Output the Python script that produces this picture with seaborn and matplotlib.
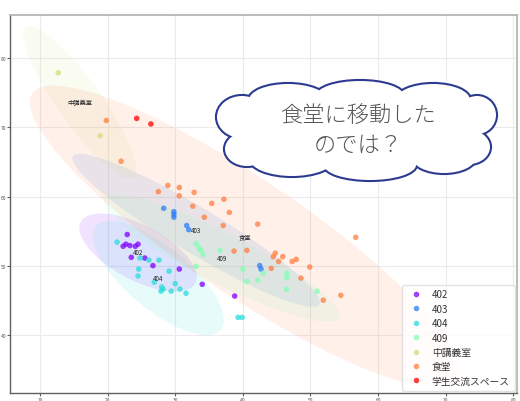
import numpy as np
import pandas as pd
import matplotlib
matplotlib.use("Agg")
import matplotlib.pyplot as plt
from matplotlib.patches import Ellipse
import seaborn as sns

# rooms, in legend order
groups = ["402", "403", "404", "409", "中講義室", "食堂", "学生交流スペース"]

# per-room observations (x, y)
x_402 = [22.9, 22.3, 22.7, 23.3, 24.1, 24.5, 23.5, 25.5, 26.7, 30.6, 34.0, 38.8]
y_402 = [54.5, 52.8, 53.1, 52.9, 52.8, 53.1, 51.2, 51.1, 50.0, 49.5, 47.3, 45.6]

x_403 = [28.3, 29.8, 29.8, 29.8, 31.7, 32.0, 42.5, 42.7]
y_403 = [58.3, 57.8, 57.4, 57.0, 55.8, 55.2, 50.0, 49.5]

x_404 = [21.4, 24.8, 26.1, 27.6, 24.6, 24.5, 29.1, 26.9, 30.0, 28.0, 28.2, 27.9,
         29.4, 30.7, 31.6, 39.3, 39.9]
y_404 = [53.4, 51.1, 50.8, 50.8, 49.5, 48.5, 49.2, 47.6, 47.4, 46.9, 46.6, 46.3,
         46.3, 46.6, 46.0, 42.5, 42.5]

x_409 = [33.1, 33.5, 33.8, 34.1, 33.1, 36.6, 40.0, 40.6, 42.2, 43.0, 46.5, 46.5,
         46.5, 51.0]
y_409 = [53.2, 52.6, 52.2, 51.6, 49.9, 52.2, 49.5, 47.7, 47.9, 48.9, 48.9, 48.3,
         46.6, 46.3]

x_lecture = [12.7, 18.9]
y_lecture = [77.9, 68.8]

x_cafeteria = [19.8, 22.0, 27.5, 28.9, 30.6, 30.6, 32.8, 32.6, 35.4, 37.2, 38.0, 34.3,
               37.1, 42.2, 38.7, 40.6, 44.8, 44.5, 45.9, 47.9, 45.3, 47.3, 44.2, 49.9,
               48.6, 51.9, 54.5, 56.7]
y_cafeteria = [71.0, 65.1, 60.7, 61.6, 61.3, 60.1, 60.6, 58.6, 59.0, 59.6, 57.7, 57.0,
               55.8, 56.0, 52.1, 52.2, 51.8, 51.3, 51.3, 50.9, 50.6, 50.6, 49.6, 49.8,
               48.2, 45.0, 45.7, 54.1]

x_lounge = [24.3, 26.4]
y_lounge = [71.3, 70.5]

# spread ellipse of each room (centre, full axes, rotation in degrees)
ell_groups = ["402", "403", "404", "409", "中講義室", "食堂"]
ell_cx = [24.5, 33.1, 27.5, 36.9, 15.9, 40.3]
ell_cy = [51.9, 55.1, 48.2, 51.1, 73.6, 54.2]
ell_w = [19.1, 42.3, 23.8, 38.8, 27.0, 75.3]
ell_h = [8.0, 6.6, 9.1, 7.3, 6.4, 16.9]
ell_ang = [-27.4, -30.4, -38.9, -26.4, -53.9, -33.3]

x_ticks = [10, 20, 30, 40, 50, 60, 70, 80]
y_ticks = [40, 50, 60, 70, 80]

callout = "食堂に移動した\nのでは？"

xs = [x_402, x_403, x_404, x_409, x_lecture, x_cafeteria, x_lounge]
ys = [y_402, y_403, y_404, y_409, y_lecture, y_cafeteria, y_lounge]
df = pd.concat(
    [pd.DataFrame({"x": gx, "y": gy, "room": g}) for g, gx, gy in zip(groups, xs, ys)],
    ignore_index=True,
)

sns.set_theme(style="whitegrid")
plt.rcParams["font.family"] = ["Noto Sans CJK JP", "DejaVu Sans"]

W, H = 520, 402
fig = plt.figure(figsize=(W / 100, H / 100), dpi=100)
ax = fig.add_axes([10 / W, 8 / H, 507 / W, 378 / H])

colors = [plt.cm.rainbow(v) for v in np.linspace(0, 1, len(groups))]
cmap = dict(zip(groups, colors))

for g, cx, cy, w, h, a in zip(ell_groups, ell_cx, ell_cy, ell_w, ell_h, ell_ang):
    ax.add_patch(Ellipse((cx, cy), w, h, angle=a, facecolor=cmap[g],
                         alpha=0.11, edgecolor="none", zorder=0.8))
    ax.text(cx, cy, g, fontsize=4.5, ha="center", va="center", color="#222222",
            zorder=4)

sns.scatterplot(data=df, x="x", y="y", hue="room", hue_order=groups,
                palette=colors, s=16, alpha=0.75, linewidth=0, ax=ax, zorder=3)

ax.set_xlim(5.56, 80.56)
ax.set_ylim(31.57, 86.26)
ax.set_xticks(x_ticks)
ax.set_yticks(y_ticks)
ax.set_xlabel("")
ax.set_ylabel("")
ax.grid(color="#ebebeb", linewidth=0.8)
ax.tick_params(left=True, bottom=True, length=2, width=0.8, color="#606060",
               labelsize=3.6, pad=0.6, labelcolor="#555555")
for side in ("left", "bottom"):
    ax.spines[side].set_color("#606060")
    ax.spines[side].set_linewidth(1.0)
for side in ("top", "right"):
    ax.spines[side].set_color("#b5b5b5")
    ax.spines[side].set_linewidth(1.3)

sns.move_legend(ax, "lower right", title=None, fontsize=7, frameon=True,
                framealpha=0.85, edgecolor="#dddddd", borderaxespad=0.25,
                handletextpad=0.6, labelspacing=0.45, borderpad=0.5)
for t in ax.get_legend().get_texts():
    t.set_color("#333333")

# thought-bubble overlay in pixel coordinates
oax = fig.add_axes([0, 0, 1, 1])
oax.set_xlim(0, W)
oax.set_ylim(H, 0)
oax.axis("off")
oax.patch.set_alpha(0)
lobes = [
    (357, 132, 240, 78),   # body
    (288, 101, 78, 32), (360, 97, 88, 30), (433, 101, 74, 32),   # top
    (242, 118, 50, 42), (247, 150, 44, 34),                       # left
    (477, 116, 38, 38), (469, 148, 42, 34),                       # right
    (292, 160, 84, 34), (370, 166, 92, 30), (444, 158, 64, 32),   # bottom
]
navy = "#2c3a8f"
for bx, by, bw, bh in lobes:
    oax.add_patch(Ellipse((bx, by), bw, bh, facecolor="white", edgecolor=navy,
                          linewidth=3.0, zorder=1))
for bx, by, bw, bh in lobes:
    oax.add_patch(Ellipse((bx, by), bw, bh, facecolor="white", edgecolor="none",
                          zorder=2))
oax.text(358, 131, callout, fontsize=16, ha="center", va="center",
         color="#555555", linespacing=1.45, fontweight="light", zorder=3)

fig.savefig("out.png", dpi=100)
